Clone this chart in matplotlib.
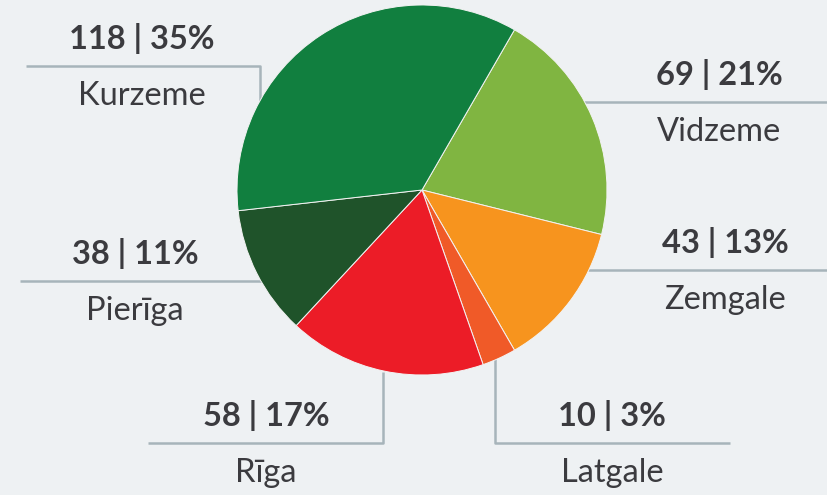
import matplotlib.pyplot as plt

regions = ['Vidzeme', 'Zemgale', 'Latgale', 'Rīga', 'Pierīga', 'Kurzeme']
counts = [69, 43, 10, 58, 38, 118]
percents = [21, 13, 3, 17, 11, 35]
colors = ['#80b541', '#f7941e', '#f05a28', '#ec1c27', '#1f532a', '#117f3f']

# label anchor (center x, line y) in pixel coords from top-left
label_pos = {
    'Kurzeme': (142, 66),
    'Vidzeme': (719, 102),
    'Zemgale': (725, 270),
    'Pierīga': (135, 281),
    'Rīga': (266, 443),
    'Latgale': (612, 443),
}
# leader line polylines (pixel coords, y from top)
leaders = {
    'Kurzeme': [(26, 66), (260, 66), (260, 104)],
    'Vidzeme': [(583, 102), (828, 102)],
    'Zemgale': [(588, 270), (828, 270)],
    'Pierīga': [(20, 281), (262, 281)],
    'Rīga': [(148, 443), (383, 443), (383, 372)],
    'Latgale': [(495, 356), (495, 443), (730, 443)],
}

W, H = 828, 495
bg = '#eef1f3'
line_c = '#a7b4ba'
txt_c = '#3b3b3f'

fig = plt.figure(figsize=(W / 100, H / 100), dpi=100, facecolor=bg)
ax = fig.add_axes([0, 0, 1, 1])
ax.set_facecolor(bg)

ax.pie(counts, colors=colors, startangle=60, counterclock=False,
       center=(422, H - 190), radius=185,
       wedgeprops=dict(edgecolor='#f3f3f3', linewidth=0.7))

for name, pts in leaders.items():
    xs = [p[0] for p in pts]
    ys = [H - p[1] for p in pts]
    ax.plot(xs, ys, color=line_c, lw=1.8, solid_capstyle='butt', zorder=0)

for name, c, p in zip(regions, counts, percents):
    x, y = label_pos[name]
    ax.text(x, H - y + 17, f'{c} | {p}%', ha='center', va='baseline',
            fontsize=23.5, fontweight='bold', color=txt_c, family='Lato')
    ax.text(x, H - y - 39, name, ha='center', va='baseline',
            fontsize=23.5, color=txt_c, family='Lato')

ax.set_xlim(0, W)
ax.set_ylim(0, H)
ax.set_aspect('equal')
ax.axis('off')

fig.savefig('out.png', dpi=100, facecolor=bg)
